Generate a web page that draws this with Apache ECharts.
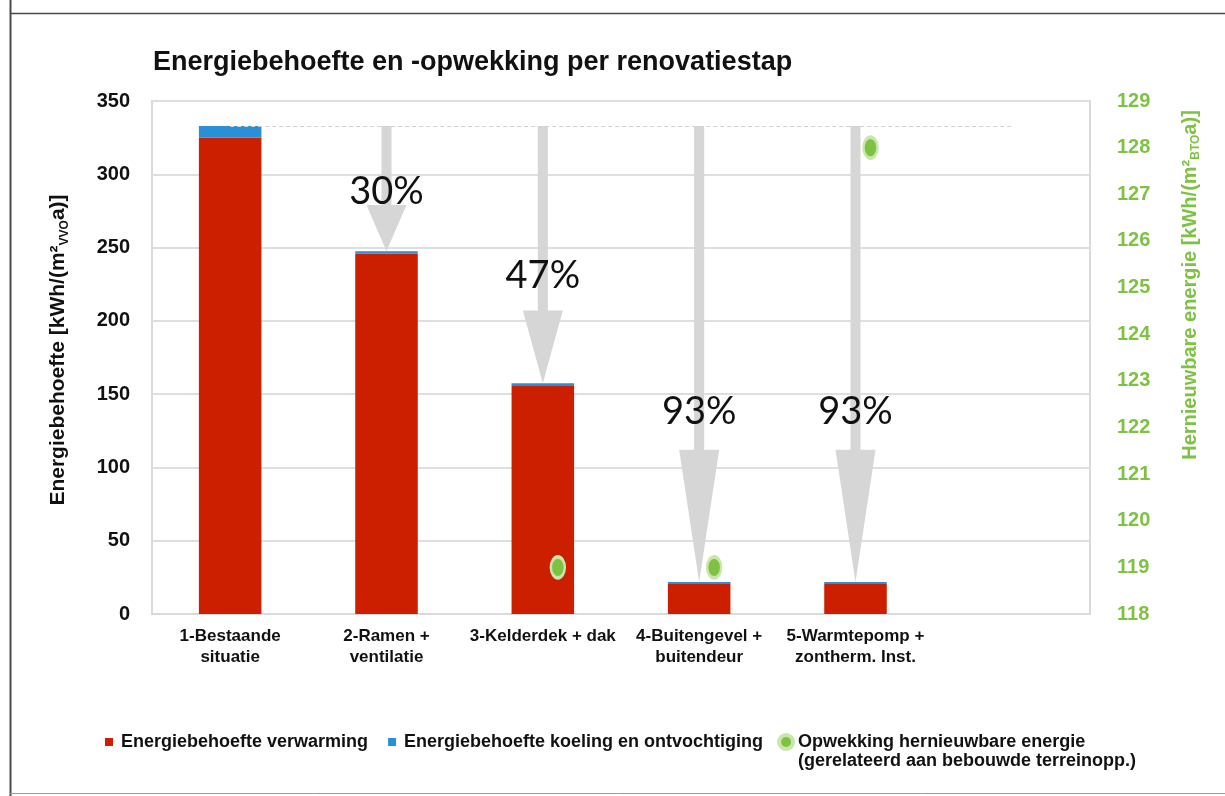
<!DOCTYPE html>
<html>
<head>
<meta charset="utf-8">
<script src="https://cdn.jsdelivr.net/npm/echarts@6/dist/echarts.min.js"></script>
<style>
  html, body { margin: 0; padding: 0; background: #ffffff; }
  #chart { width: 1225px; height: 796px; }
</style>
</head>
<body>
<div id="chart"></div>
<script>
// Renovation steps (the last, empty slot keeps room on the right of the plot)
const categories = [
  '1-Bestaande\nsituatie',
  '2-Ramen +\nventilatie',
  '3-Kelderdek + dak',
  '4-Buitengevel +\nbuitendeur',
  '5-Warmtepomp +\nzontherm. Inst.',
  ''
];
// Energy demand per step, kWh/(m² VVO a)
const heatingDemand = [325, 246, 156, 21, 21, null];
const coolingDemand = [8, 1.5, 1.5, 0.8, 0.8, null];
// Renewable generation, kWh/(m² BTO a), right axis
const renewableGen = [null, null, 119, 119, 128, null];
// Reduction arrows: label, level where the head starts, level of the label
const reductionLabels = [null, '30%', '47%', '93%', '93%', null];
const arrowHeadStart = [null, 279, 207, 112, 112, null];
const reductionLabelLevel = [null, 288, 231, 138, 138, null];

const FONT = '"Liberation Sans", Arial, sans-serif';
const RED = '#cc1f00';
const BLUE = '#2a8fd4';
const GREEN = '#7dc242';

const baseTotal = heatingDemand[0] + coolingDemand[0];

const arrowData = [];
reductionLabels.forEach((lab, i) => {
  if (lab) {
    arrowData.push([i, baseTotal, arrowHeadStart[i], heatingDemand[i] + coolingDemand[i], reductionLabelLevel[i]]);
  }
});
const arrowLabelList = reductionLabels.filter(Boolean);

const scatterData = [];
renewableGen.forEach((v, i) => { if (v != null) scatterData.push([i, v]); });

const chart = echarts.init(document.getElementById('chart'), null, { renderer: 'canvas' });

chart.setOption({
  backgroundColor: '#ffffff',
  animation: false,
  title: {
    text: 'Energiebehoefte en -opwekking per renovatiestap',
    left: 148,
    top: 44,
    textStyle: { fontFamily: FONT, fontSize: 27, fontWeight: 'bold', color: '#111111' }
  },
  grid: {
    left: 152, right: 135, top: 101, bottom: 182,
    show: true, borderColor: '#dadada', borderWidth: 2, backgroundColor: 'transparent'
  },
  legend: {
    left: 99,
    top: 732,
    padding: 0,
    orient: 'horizontal',
    itemWidth: 14,
    itemHeight: 14,
    itemGap: 14,
    selectedMode: false,
    textStyle: { fontFamily: FONT, fontSize: 18, fontWeight: 'bold', color: '#111111' },
    data: [
      { name: 'Energiebehoefte verwarming', icon: 'rect', itemStyle: { color: RED, borderColor: '#ffffff', borderWidth: 6 } },
      { name: 'Energiebehoefte koeling en ontvochtiging', icon: 'rect', itemStyle: { color: BLUE, borderColor: '#ffffff', borderWidth: 6 } },
      { name: 'Opwekking hernieuwbare energie', icon: 'circle', itemStyle: { color: GREEN, borderColor: '#c9e6ab', borderWidth: 4 } }
    ]
  },
  xAxis: {
    type: 'category',
    data: categories,
    axisTick: { show: false },
    axisLine: { lineStyle: { color: '#dadada', width: 2 } },
    axisLabel: {
      interval: 0, margin: 12,
      fontFamily: FONT, fontSize: 17, fontWeight: 'bold', lineHeight: 21, color: '#111111'
    }
  },
  yAxis: [
    {
      type: 'value', min: 0, max: 350, interval: 50,
      axisLine: { show: false }, axisTick: { show: false },
      splitLine: { lineStyle: { color: '#dedede', width: 2 } },
      axisLabel: { margin: 22, fontFamily: FONT, fontSize: 20, fontWeight: 'bold', color: '#111111' }
    },
    {
      type: 'value', min: 118, max: 129, interval: 1,
      position: 'right',
      axisLine: { show: false }, axisTick: { show: false },
      splitLine: { show: false },
      axisLabel: { margin: 27, fontFamily: FONT, fontSize: 20, fontWeight: 'bold', color: GREEN }
    }
  ],
  graphic: [
    // page frame
    { type: 'line', shape: { x1: 10.5, y1: 0, x2: 10.5, y2: 796 }, style: { stroke: '#4a4a4a', lineWidth: 2 }, silent: true },
    { type: 'line', shape: { x1: 10, y1: 13.5, x2: 1225, y2: 13.5 }, style: { stroke: '#4a4a4a', lineWidth: 1.5 }, silent: true },
    { type: 'line', shape: { x1: 10, y1: 793.5, x2: 1225, y2: 793.5 }, style: { stroke: '#9a9a9a', lineWidth: 1 }, silent: true },
    // axis names
    {
      type: 'text', x: 58, y: 350, rotation: Math.PI / 2, silent: true,
      style: {
        text: '{a|Energiebehoefte [kWh/(m²}{s|VVO}{a|a)]}',
        align: 'center', verticalAlign: 'middle',
        rich: {
          a: { fontFamily: FONT, fontSize: 21, fontWeight: 'bold', fill: '#111111', lineHeight: 25 },
          s: { fontFamily: FONT, fontSize: 12, fontWeight: 'bold', fill: '#111111', lineHeight: 12, verticalAlign: 'bottom' }
        }
      }
    },
    {
      type: 'text', x: 1190, y: 285, rotation: Math.PI / 2, silent: true,
      style: {
        text: '{a|Hernieuwbare energie [kWh/(m²}{s|BTO}{a|a)]}',
        align: 'center', verticalAlign: 'middle',
        rich: {
          a: { fontFamily: FONT, fontSize: 20, fontWeight: 'bold', fill: GREEN, lineHeight: 24 },
          s: { fontFamily: FONT, fontSize: 12, fontWeight: 'bold', fill: GREEN, lineHeight: 12, verticalAlign: 'bottom' }
        }
      }
    },
    // second line of the renewable legend entry
    {
      type: 'text', x: 798, y: 761, silent: true,
      style: {
        text: '(gerelateerd aan bebouwde terreinopp.)',
        align: 'left', verticalAlign: 'middle',
        fontFamily: FONT, fontSize: 18, fontWeight: 'bold', fill: '#111111'
      }
    }
  ],
  series: [
    {
      name: 'Energiebehoefte verwarming',
      type: 'bar', stack: 'demand', barWidth: '40%',
      itemStyle: { color: RED },
      data: heatingDemand,
      z: 2
    },
    {
      name: 'Energiebehoefte koeling en ontvochtiging',
      type: 'bar', stack: 'demand', barWidth: '40%',
      itemStyle: { color: BLUE },
      data: coolingDemand,
      z: 2,
      markLine: {
        silent: true, symbol: 'none',
        label: { show: false },
        lineStyle: { type: [4, 3], color: '#d2d2d2', width: 1 },
        data: [[{ coord: [0, baseTotal] }, { coord: [5, baseTotal] }]]
      }
    },
    {
      name: 'reduction',
      type: 'custom',
      z: 3,
      silent: true,
      data: arrowData,
      renderItem: function (params, api) {
        const i = api.value(0);
        const top = api.coord([i, api.value(1)]);
        const x = top[0];
        const yTop = top[1];
        const yHead = api.coord([i, api.value(2)])[1];
        const yTip = api.coord([i, api.value(3)])[1];
        const yLab = api.coord([i, api.value(4)])[1];
        const sw = 5, hw = 20;
        return {
          type: 'group',
          children: [
            {
              type: 'polygon',
              shape: { points: [[x - sw, yTop], [x + sw, yTop], [x + sw, yHead], [x + hw, yHead], [x, yTip], [x - hw, yHead], [x - sw, yHead]] },
              style: { fill: '#d6d6d6' }
            },
            {
              type: 'text', x: x, y: yLab,
              style: {
                text: arrowLabelList[params.dataIndex],
                align: 'center', verticalAlign: 'middle',
                fontFamily: 'Lato, "Open Sans", sans-serif', fontSize: 38, fill: '#111111'
              }
            }
          ]
        };
      }
    },
    {
      name: 'Opwekking hernieuwbare energie',
      type: 'scatter',
      yAxisIndex: 1,
      symbol: 'circle',
      symbolSize: [14, 21],
      symbolOffset: [15, 0],
      itemStyle: { color: GREEN, borderColor: '#c9e6ab', borderWidth: 3, opacity: 1 },
      data: scatterData,
      z: 5
    }
  ]
});
</script>
</body>
</html>
